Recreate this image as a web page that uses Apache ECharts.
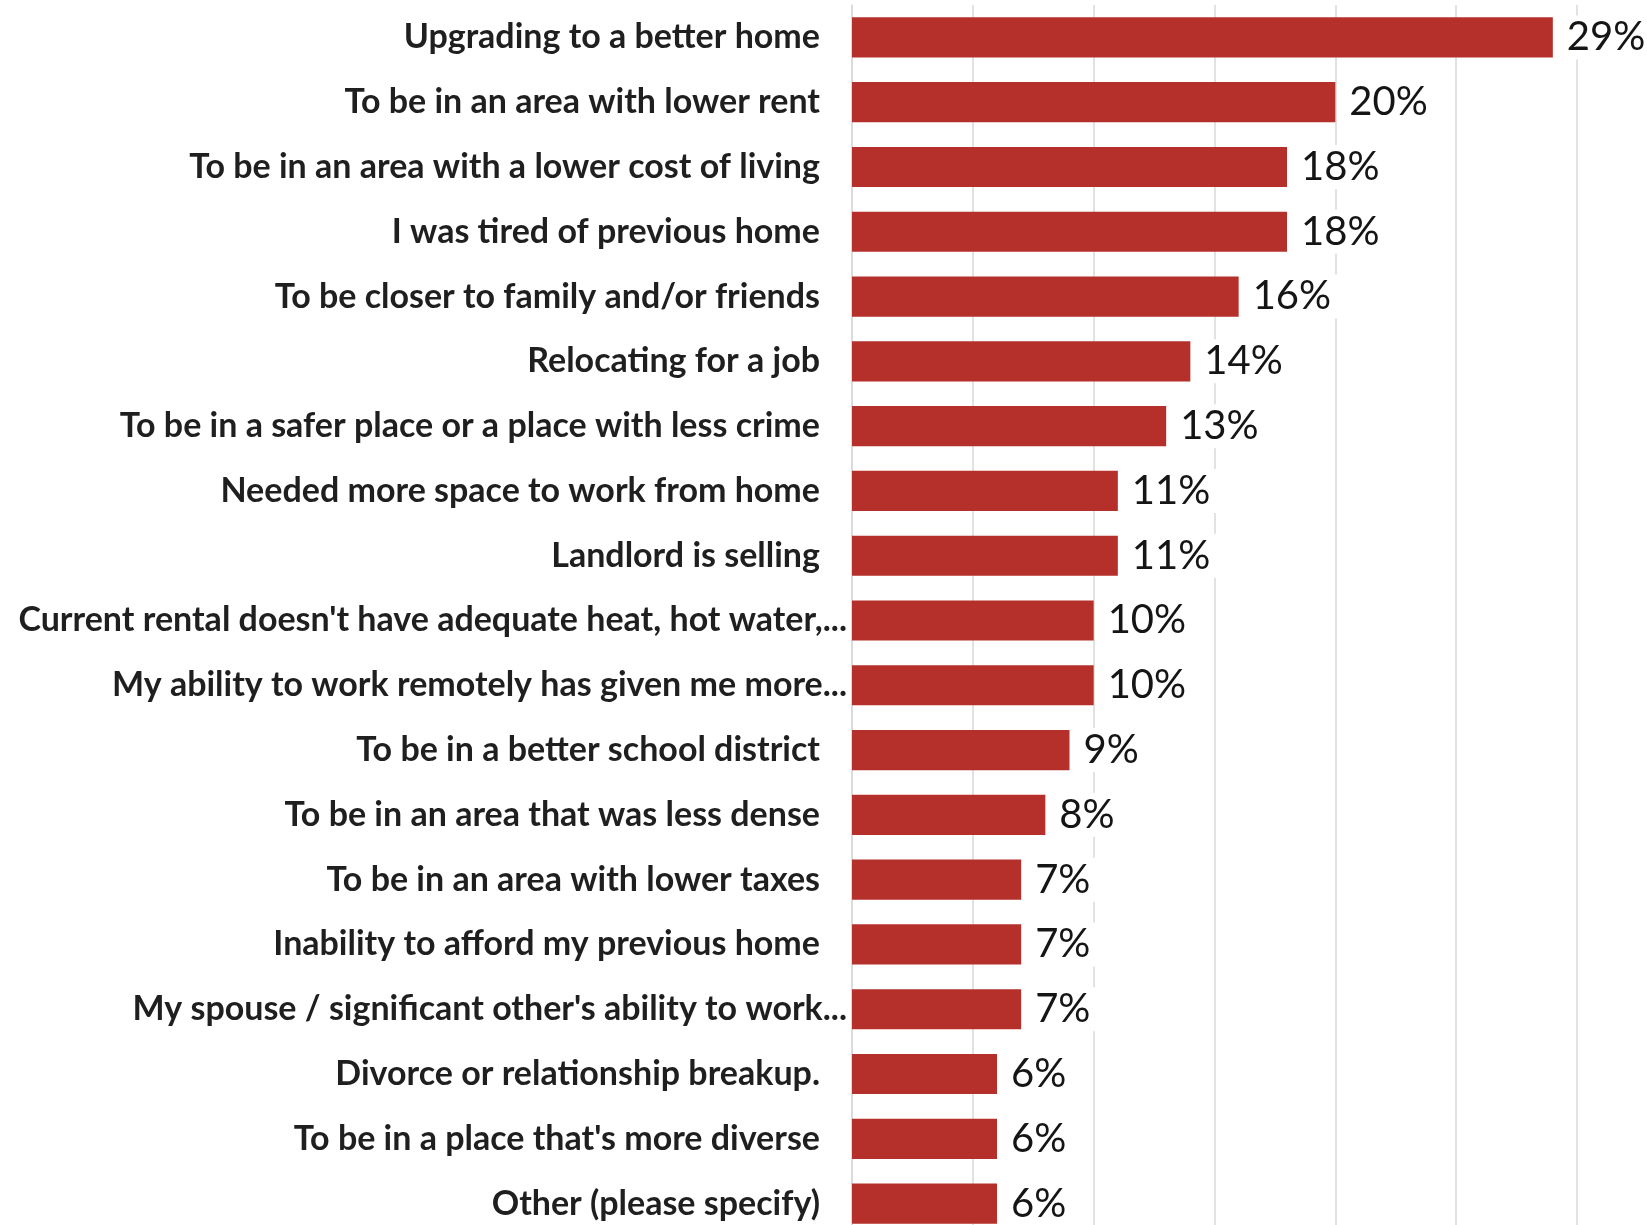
<!DOCTYPE html>
<html>
<head>
<meta charset="utf-8">
<script src="https://cdn.jsdelivr.net/npm/echarts@6/dist/echarts.min.js"></script>
<style>
  html, body { margin: 0; padding: 0; background: #ffffff; }
  #chart { width: 1647px; height: 1225px; }
</style>
</head>
<body>
<div id="chart"></div>
<script>
// Reasons for moving, share of respondents (%)
const categories = [
  "Upgrading to a better home",
  "To be in an area with lower rent",
  "To be in an area with a lower cost of living",
  "I was tired of previous home",
  "To be closer to family and/or friends",
  "Relocating for a job",
  "To be in a safer place or a place with less crime",
  "Needed more space to work from home",
  "Landlord is selling",
  "Current rental doesn't have adequate heat, hot water,...",
  "My ability to work remotely has given me more...",
  "To be in a better school district",
  "To be in an area that was less dense",
  "To be in an area with lower taxes",
  "Inability to afford my previous home",
  "My spouse / significant other's ability to work...",
  "Divorce or relationship breakup.",
  "To be in a place that's more diverse",
  "Other (please specify)"
];
const shares = [29, 20, 18, 18, 16, 14, 13, 11, 11, 10, 10, 9, 8, 7, 7, 7, 6, 6, 6];
const gridTicks = [0, 5, 10, 15, 20, 25, 30];

const chart = echarts.init(document.getElementById('chart'), null, { renderer: 'canvas' });

const labelFont = { fontFamily: 'Lato', fontSize: 34, fontWeight: 'bold', color: '#1f1f1f' };

chart.setOption({
  backgroundColor: '#ffffff',
  animation: false,
  grid: {
    left: 852, right: 70, top: 5, height: 1231,
    containLabel: false,
    outerBoundsMode: 'none'
  },
  xAxis: {
    type: 'value',
    min: gridTicks[0],
    max: gridTicks[gridTicks.length - 1],
    interval: 5,
    axisLabel: { show: false },
    axisLine: { show: false },
    axisTick: { show: false },
    splitLine: { show: true, lineStyle: { color: '#d9d9d9', width: 1.5 } }
  },
  yAxis: {
    type: 'category',
    inverse: true,
    data: categories,
    axisTick: { show: false },
    axisLine: { show: true, lineStyle: { color: '#d9d9d9', width: 1.5 } },
    axisLabel: Object.assign({
      margin: 5,
      formatter: function (v) {
        // Full labels sit further from the axis than the clipped ("...") ones
        return v.endsWith('...') ? '{c|' + v + '}' : '{n|' + v + '}';
      },
      rich: {
        n: Object.assign({ padding: [0, 27, 0, 0] }, labelFont),
        c: Object.assign({}, labelFont)
      }
    }, labelFont)
  },
  series: [{
    type: 'bar',
    data: shares,
    barCategoryGap: '38%',
    itemStyle: { color: '#b6302b' },
    label: {
      show: true,
      position: 'right',
      distance: 5,
      formatter: '{c}%',
      color: '#151515',
      fontFamily: 'Lato',
      fontSize: 40,
      backgroundColor: '#ffffff',
      padding: [2, 9, 2, 9]
    }
  }]
});
</script>
</body>
</html>
